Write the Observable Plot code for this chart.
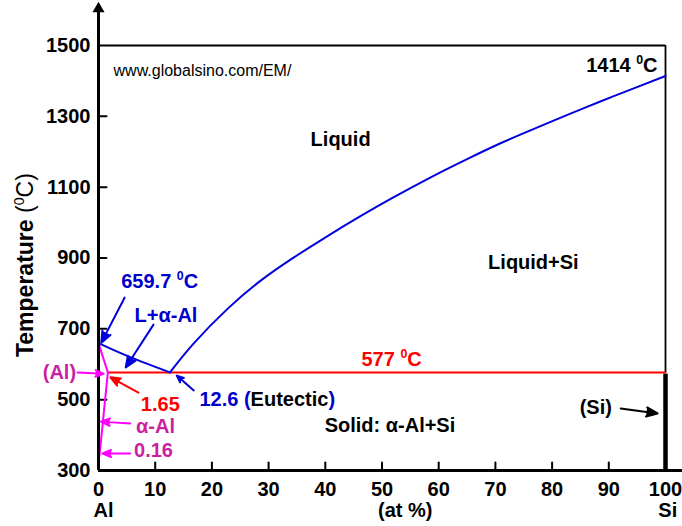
<!DOCTYPE html>
<html>
<head>
<meta charset="utf-8">
<script src="https://cdn.jsdelivr.net/npm/d3@7"></script>
<script src="https://cdn.jsdelivr.net/npm/@observablehq/plot@0.6"></script>
<style>
  html, body { margin: 0; padding: 0; background: #fff; }
  svg { display: block; }
</style>
</head>
<body>
<div id="chart"></div>
<script>
// ---------- data ----------
const xTicks = [0, 10, 20, 30, 40, 50, 60, 70, 80, 90, 100];
const yTicks = [300, 500, 700, 900, 1100, 1300, 1500];
const xInnerTicks = [10, 20, 30, 40, 50, 60, 70, 80, 90];
const yInnerTicks = [500, 700, 900, 1100, 1300];

// liquidus on Si side (at% Si, temperature °C)
const siLiquidusX = [12.6, 16.8, 22.8, 28.6, 34.4, 40.4, 46.2, 52.0, 59.1, 65.1, 70.9, 76.7, 82.7, 88.5, 94.4, 100];
const siLiquidusT = [577, 659, 757, 836, 901, 962, 1018, 1071, 1132, 1180, 1224, 1264, 1304, 1342, 1379, 1414];
// liquidus on Al side
const alLiquidusX = [0, 5.6, 12.6];
const alLiquidusT = [659.7, 620, 577];
// solidus + solvus of (Al)
const solvusX = [0, 1.65, 0.16];
const solvusT = [659.7, 577, 340];
// eutectic isotherm
const eutecticX = [1.65, 100];
const eutecticT = [577, 577];

const BLUE = "#0000dd", BLUE_TXT = "#0000cc", RED = "#ff0000", MAG = "#ff00ff", MAG_TXT = "#cc1f9f";

const labelText = ["Liquid", "Liquid+Si", "659.7 ⁰C", "L+α-Al", "577 ⁰C", "12.6 (Eutectic)", "(Al)", "1.65", "α-Al", "0.16", "(Si)", "Solid: α-Al+Si", "1414 ⁰C"];
const labelX =    [42.7, 76.7, 10.8, 11.9, 51.7, 17.8, -6.9, 10.9, 10.05, 9.7, 87.7, 51.4, 98.6];
const labelY =    [1234, 887, 833, 737, 613, 500, 577, 486, 424, 356, 478, 427, 1443];
const labelColor = ["black", "black", BLUE_TXT, BLUE_TXT, RED, BLUE_TXT, MAG_TXT, RED, MAG_TXT, MAG_TXT, "black", "black", "black"];
const labelAnchor = ["middle", "middle", "middle", "middle", "middle", "start", "middle", "middle", "middle", "middle", "middle", "middle", "end"];

const arrowX1 = [4.6, 9.7, 16.8, -3.7, 7.05, 5.6, 5.6, 92.1];
const arrowY1 = [788, 712, 526, 577, 520, 433, 348, 475];
const arrowX2 = [0.5, 4.8, 13.8, 0.9, 2.1, 0.4, 0.7, 98.6];
const arrowY2 = [661, 591, 568, 573, 563, 438, 348, 461];
const arrowColor = [BLUE, BLUE, BLUE, MAG, RED, MAG, MAG, "black"];

const urlText = "www.globalsino.com/EM/";
const yTitle = "Temperature (⁰C)";
const bottomText = ["Al", "(at %)", "Si"];
const bottomX = [0.9, 54.1, 100.4];

const yAxisTop = 1604, xAxisEnd = 103;

// rich text (mixed colours / superscripts)
const richParts = {
  "12.6 (Eutectic)": [{t: "12.6 ("}, {t: "Eutectic", fill: "black"}, {t: ")"}],
  "Temperature (⁰C)": [{t: "Temperature "}, {t: "(", weight: "normal"}, {t: "0", sup: true, weight: "normal"}, {t: "C)", weight: "normal"}]
};

// ---------- tables ----------
const zipLine = (xs, ts) => xs.map((x, i) => ({x, t: ts[i]}));
const labels = labelText.map((text, i) => ({text, x: labelX[i], y: labelY[i], c: labelColor[i], a: labelAnchor[i]}));
const arrows = arrowX1.map((x1, i) => ({x1, y1: arrowY1[i], x2: arrowX2[i], y2: arrowY2[i], c: arrowColor[i]}));
const FONT = "'Liberation Sans', Arial, Helvetica, sans-serif";
const tickShape = {draw(context, l) { context.moveTo(0, 0); context.lineTo(0, -l); }};

const textsBy = (anchor) => Plot.text(labels.filter(d => d.a === anchor), {
  x: "x", y: "y", text: "text", fill: d => d.c, textAnchor: anchor,
  fontSize: 20, fontWeight: "bold"
});

const svg = Plot.plot({
  width: 682, height: 526,
  marginTop: 45, marginRight: 17, marginBottom: 56, marginLeft: 98,
  x: {domain: [0, 100]},
  y: {domain: [300, 1500]},
  color: {type: "identity"},
  style: {fontFamily: FONT, background: "white", overflow: "visible"},
  marks: [
    // tick labels
    Plot.axisX(xTicks, {tickSize: 0, tickPadding: 11, tickFormat: d => String(d), fontSize: 20, fontWeight: "bold", label: null, fill: "black"}),
    Plot.axisY(yTicks, {tickSize: 0, tickPadding: 8, tickFormat: d => String(d), fontSize: 20, fontWeight: "bold", label: null, fill: "black"}),
    // inner tick marks
    Plot.vector(xInnerTicks, {x: d => d, y: () => 300, length: 8, rotate: 0, anchor: "start", shape: tickShape, stroke: "black", strokeWidth: 2}),
    Plot.vector(yInnerTicks, {x: () => 0, y: d => d, length: 8, rotate: 90, anchor: "start", shape: tickShape, stroke: "black", strokeWidth: 2}),
    // frame
    Plot.ruleY([1500], {x1: 0, x2: 100, strokeWidth: 2}),
    Plot.ruleX([100], {y1: 577, y2: 1500, strokeWidth: 1.8}),
    // phase lines
    Plot.line(zipLine(eutecticX, eutecticT), {x: "x", y: "t", stroke: RED, strokeWidth: 2}),
    Plot.line(zipLine(siLiquidusX, siLiquidusT), {x: "x", y: "t", stroke: BLUE, strokeWidth: 2, curve: "natural"}),
    Plot.line(zipLine(alLiquidusX, alLiquidusT), {x: "x", y: "t", stroke: BLUE, strokeWidth: 2, curve: "natural"}),
    Plot.line(zipLine(solvusX, solvusT), {x: "x", y: "t", stroke: MAG, strokeWidth: 2}),
    Plot.ruleX([100], {y1: 300, y2: 572, strokeWidth: 4.5}),
    // axes lines
    Plot.ruleX([0], {y1: 300, y2: yAxisTop, strokeWidth: 3}),
    Plot.ruleY([300], {x1: 0, x2: xAxisEnd, strokeWidth: 3}),
    Plot.dot([yAxisTop], {x: () => 0, y: d => d, symbol: "triangle", r: 4.5, fill: "black", stroke: null}),
    // annotation arrows
    Plot.arrow(arrows, {x1: "x1", y1: "y1", x2: "x2", y2: "y2", stroke: d => d.c, strokeWidth: 2, headLength: 9, headAngle: 45}),
    // labels
    textsBy("middle"), textsBy("start"), textsBy("end"),
    Plot.text([urlText], {x: () => 2.65, y: () => 1429, text: d => d, textAnchor: "start", fontSize: 16, fill: "black"}),
    Plot.text([yTitle], {frameAnchor: "left", y: () => 880, dx: -73, rotate: -90, textAnchor: "middle", text: d => d, fontSize: 23, fontWeight: "bold", fill: "black"}),
    Plot.text(bottomText, {x: (d, i) => bottomX[i], frameAnchor: "bottom", dy: 46, textAnchor: "middle", text: d => d, fontSize: 20, fontWeight: "bold", fill: "black"})
  ]
});

document.getElementById("chart").appendChild(svg);

// filled arrowheads (the chevron sub-path closes into a triangle)
svg.querySelectorAll('g[aria-label="arrow"] path').forEach(p => {
  const s = p.getAttribute("stroke");
  if (s) p.setAttribute("fill", s);
});

// ---------- rich text post-processing ----------
svg.querySelectorAll("text").forEach(t => {
  if (t.querySelector("tspan")) return;
  const s = t.textContent;
  let parts = richParts[s];
  if (!parts) {
    if (!s.includes("⁰")) return;
    const [a, b] = s.split("⁰");
    parts = [{t: a}, {t: "0", sup: true}, {t: b}];
  }
  const base = parseFloat(getComputedStyle(t).fontSize) || 20;
  t.textContent = "";
  let shift = 0;
  parts.forEach(p => {
    const ts = document.createElementNS("http://www.w3.org/2000/svg", "tspan");
    ts.textContent = p.t;
    if (p.fill) ts.setAttribute("fill", p.fill);
    if (p.weight) ts.setAttribute("font-weight", p.weight);
    if (p.sup) {
      ts.setAttribute("font-size", (base * 0.62).toFixed(1));
      ts.setAttribute("dy", (-base * 0.4).toFixed(1));
      shift = base * 0.4;
    } else if (shift) {
      ts.setAttribute("dy", shift.toFixed(1));
      shift = 0;
    }
    t.appendChild(ts);
  });
});
</script>
</body>
</html>
